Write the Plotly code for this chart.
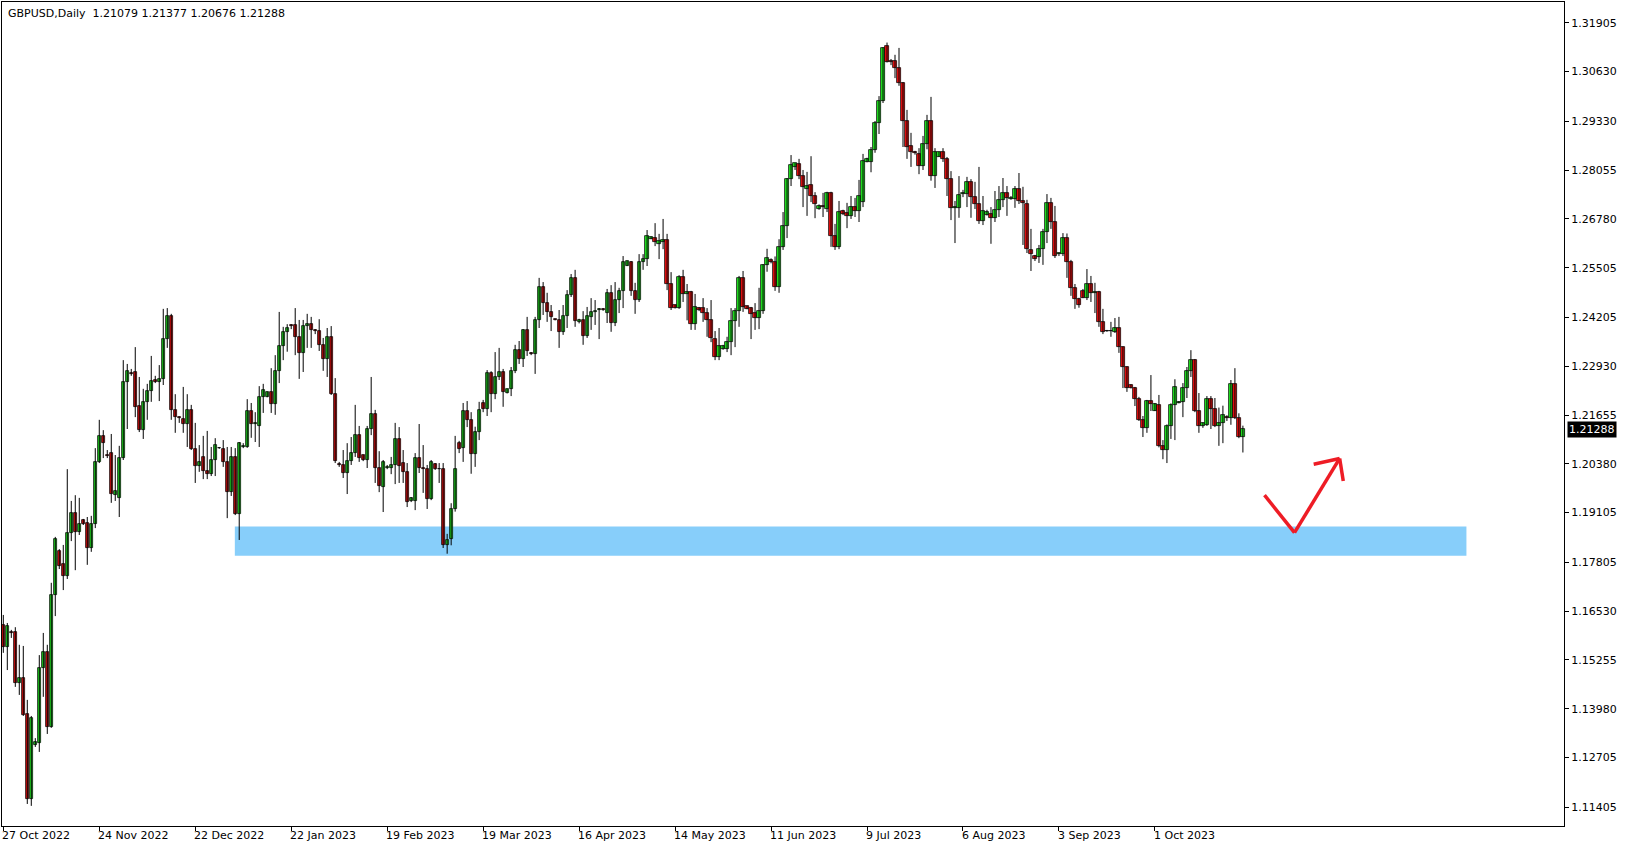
import plotly.graph_objects as go
import pandas as pd

# ---------------- data ----------------
# daily bars incl. Sunday bars (no Saturdays, no 25 Dec / 1 Jan)
all_days = pd.date_range("2022-10-27", "2023-10-26", freq="D")
dates = [d for d in all_days if d.weekday() != 5 and d.strftime("%m-%d") not in ("12-25", "01-01")]

O = [
1.1617,1.1559,1.1598,1.1598,1.1465,1.1478,1.1384,1.1162,1.1303,1.1308,
1.1504,1.1546,1.1350,1.1695,1.1810,1.1776,1.1745,1.1857,1.1910,1.1860,
1.1891,1.1883,1.1818,1.1881,1.2043,1.2111,1.2061,1.2066,1.1957,1.1949,
1.2053,1.2252,1.2275,1.2278,1.2189,1.2126,1.2200,1.2228,1.2257,1.2252,
1.2260,1.2364,1.2424,1.2179,1.2160,1.2155,1.2142,1.2179,1.2077,1.2032,
1.2056,1.2019,1.2011,1.2048,1.2079,1.2077,1.2043,1.1964,1.2056,1.1907,
1.2082,1.2082,1.2176,1.2142,1.2137,1.2213,1.2213,1.2226,1.2194,1.2281,
1.2346,1.2382,1.2401,1.2401,1.2370,1.2328,1.2398,1.2403,1.2388,1.2385,
1.2349,1.2312,1.2370,1.2220,1.2037,1.2035,1.2014,1.2045,1.2066,1.2113,
1.2061,1.2048,1.2129,1.2168,1.2027,1.1977,1.2027,1.2027,1.2035,1.2103,
1.2040,1.2017,1.1941,1.1941,1.2053,1.2027,1.2024,1.1946,1.2037,1.2024,
1.2024,1.1825,1.1842,1.1920,1.2092,1.2079,1.2176,1.2153,1.2063,1.2120,
1.2197,1.2181,1.2275,1.2220,1.2264,1.2278,1.2223,1.2233,1.2280,1.2335,
1.2312,1.2388,1.2328,1.2325,1.2413,1.2500,1.2458,1.2435,1.2416,1.2413,
1.2382,1.2424,1.2479,1.2524,1.2409,1.2414,1.2372,1.2422,1.2435,1.2440,
1.2443,1.2432,1.2484,1.2406,1.2466,1.2490,1.2555,1.2566,1.2490,1.2466,
1.2566,1.2573,1.2626,1.2628,1.2613,1.2618,1.2623,1.2508,1.2453,1.2445,
1.2526,1.2482,1.2487,1.2403,1.2445,1.2445,1.2432,1.2414,1.2364,1.2317,
1.2338,1.2338,1.2356,1.2411,1.2437,1.2524,1.2450,1.2445,1.2432,1.2419,
1.2437,1.2558,1.2570,1.2566,1.2500,1.2605,1.2660,1.2782,1.2814,1.2822,
1.2790,1.2756,1.2767,1.2738,1.2704,1.2712,1.2704,1.2746,1.2634,1.2605,
1.2699,1.2693,1.2686,1.2709,1.2699,1.2722,1.2827,1.2827,1.2858,1.2929,
1.2986,1.3130,1.3091,1.3091,1.3072,1.3033,1.2934,1.2869,1.2853,1.2848,
1.2816,1.2875,1.2935,1.2791,1.2840,1.2853,1.2835,1.2782,1.2707,1.2707,
1.2743,1.2743,1.2775,1.2735,1.2717,1.2673,1.2688,1.2691,1.2680,1.2701,
1.2728,1.2746,1.2730,1.2730,1.2756,1.2725,1.2717,1.2597,1.2581,1.2578,
1.2599,1.2644,1.2720,1.2670,1.2586,1.2586,1.2628,1.2565,1.2497,1.2469,
1.2490,1.2472,1.2508,1.2485,1.2487,1.2409,1.2386,1.2385,1.2383,1.2393,
1.2343,1.2291,1.2244,1.2236,1.2207,1.2153,1.2132,1.2202,1.2176,1.2192,
1.2085,1.2074,1.2137,1.2192,1.2197,1.2199,1.2236,1.2281,1.2309,1.2176,
1.2137,1.2140,1.2207,1.2181,1.2137,1.2145,1.2160,1.2157,1.2247,1.2157,
1.21079]

H = [
1.1643,1.1622,1.1604,1.1611,1.1565,1.1562,1.1421,1.1379,1.1321,1.1538,
1.1596,1.1565,1.1727,1.1847,1.1815,1.1826,1.2024,1.1941,1.1956,1.1949,
1.1894,1.1899,1.1902,1.2079,1.2153,1.2126,1.2074,1.2116,1.2061,1.2085,
1.2309,1.2299,1.2286,1.2343,1.2265,1.2234,1.2247,1.2320,1.2268,1.2296,
1.2443,1.2445,1.2430,1.2220,1.2162,1.2239,1.2220,1.2192,1.2145,1.2087,
1.2111,1.2124,1.2082,1.2105,1.2082,1.2100,1.2082,1.2082,1.2079,1.2095,
1.2092,1.2207,1.2197,1.2173,1.2241,1.2247,1.2227,1.2288,1.2322,1.2435,
1.2396,1.2403,1.2403,1.2445,1.2414,1.2414,1.2430,1.2422,1.2390,1.2416,
1.2367,1.2393,1.2398,1.2262,1.2043,1.2074,1.2092,1.2108,1.2192,1.2137,
1.2062,1.2137,1.2265,1.2179,1.2071,1.2048,1.2035,1.2056,1.2145,1.2134,
1.2074,1.2040,1.1951,1.2066,1.2142,1.2087,1.2035,1.2048,1.2040,1.2040,
1.2040,1.1855,1.1935,1.2111,1.2098,1.2197,1.2202,1.2173,1.2135,1.2200,
1.2205,1.2283,1.2280,1.2330,1.2341,1.2286,1.2234,1.2291,1.2349,1.2359,
1.2390,1.2422,1.2330,1.2422,1.2524,1.2513,1.2485,1.2453,1.2417,1.2440,
1.2453,1.2492,1.2534,1.2545,1.2417,1.2437,1.2448,1.2471,1.2466,1.2445,
1.2445,1.2495,1.2505,1.2513,1.2498,1.2581,1.2569,1.2568,1.2511,1.2586,
1.2586,1.2649,1.2632,1.2667,1.2639,1.2678,1.2639,1.2539,1.2454,1.2531,
1.2545,1.2508,1.2490,1.2482,1.2448,1.2471,1.2445,1.2466,1.2385,1.2393,
1.2349,1.2370,1.2445,1.2445,1.2529,1.2542,1.2451,1.2448,1.2458,1.2498,
1.2560,1.2600,1.2575,1.2580,1.2625,1.2696,1.2785,1.2845,1.2824,1.2835,
1.2806,1.2801,1.2842,1.2748,1.2716,1.2746,1.2749,1.2749,1.2665,1.2725,
1.2702,1.2720,1.2738,1.2733,1.2780,1.2848,1.2838,1.2866,1.2934,1.2999,
1.3127,1.3139,1.3096,1.3107,1.3125,1.3036,1.2963,1.2903,1.2856,1.2863,
1.2895,1.2950,1.2997,1.2863,1.2854,1.2863,1.2840,1.2803,1.2725,1.2790,
1.2754,1.2788,1.2782,1.2775,1.2814,1.2738,1.2702,1.2709,1.2751,1.2764,
1.2785,1.2764,1.2738,1.2764,1.2798,1.2762,1.2728,1.2652,1.2584,1.2610,
1.2652,1.2743,1.2733,1.2712,1.2590,1.2641,1.2640,1.2571,1.2508,1.2472,
1.2495,1.2547,1.2529,1.2511,1.2490,1.2443,1.2388,1.2409,1.2419,1.2422,
1.2345,1.2293,1.2246,1.2239,1.2213,1.2163,1.2205,1.2270,1.2197,1.2218,
1.2100,1.2141,1.2196,1.2259,1.2202,1.2249,1.2291,1.2335,1.2312,1.2223,
1.2146,1.2215,1.2215,1.2210,1.2185,1.2190,1.2165,1.2257,1.2288,1.2170,
1.21377]

L = [
1.1544,1.1499,1.1583,1.1455,1.1434,1.1379,1.1149,1.1144,1.1298,1.1285,
1.1429,1.1332,1.1348,1.1640,1.1763,1.1708,1.1737,1.1836,1.1760,1.1852,
1.1878,1.1774,1.1808,1.1870,1.2040,1.2053,1.2053,1.1936,1.1941,1.1899,
1.2048,1.2129,1.2268,1.2160,1.2121,1.2103,1.2153,1.2200,1.2249,1.2202,
1.2244,1.2341,1.2153,1.2119,1.2145,1.2119,1.2082,1.2074,1.1988,1.2017,
1.1998,1.1998,1.2006,1.2006,1.2077,1.2030,1.1896,1.1954,1.1904,1.1839,
1.2079,1.2080,1.2106,1.2095,1.2082,1.2171,1.2212,1.2171,1.2166,1.2249,
1.2309,1.2331,1.2390,1.2322,1.2260,1.2278,1.2341,1.2341,1.2377,1.2333,
1.2281,1.2265,1.2218,1.2040,1.2030,1.2001,1.1959,1.2035,1.2056,1.2043,
1.2045,1.2027,1.2113,1.1988,1.1964,1.1912,1.2024,1.2011,1.1985,1.1988,
1.1988,1.1925,1.1938,1.1917,1.2014,1.1962,1.1920,1.1943,1.2022,1.1988,
1.1818,1.1803,1.1825,1.1913,1.2066,1.2043,1.2134,1.2012,1.2030,1.2100,
1.2173,1.2163,1.2173,1.2207,1.2257,1.2187,1.2222,1.2215,1.2275,1.2299,
1.2291,1.2320,1.2322,1.2273,1.2393,1.2427,1.2409,1.2385,1.2413,1.2341,
1.2375,1.2393,1.2474,1.2396,1.2405,1.2349,1.2367,1.2388,1.2401,1.2364,
1.2438,1.2406,1.2383,1.2398,1.2432,1.2445,1.2555,1.2477,1.2430,1.2461,
1.2545,1.2555,1.2625,1.2607,1.2573,1.2599,1.2492,1.2440,1.2444,1.2443,
1.2461,1.2413,1.2388,1.2388,1.2437,1.2409,1.2370,1.2356,1.2309,1.2309,
1.2336,1.2330,1.2322,1.2343,1.2396,1.2435,1.2442,1.2364,1.2388,1.2390,
1.2430,1.2540,1.2562,1.2490,1.2485,1.2597,1.2628,1.2764,1.2806,1.2782,
1.2709,1.2686,1.2722,1.2680,1.2702,1.2683,1.2696,1.2605,1.2597,1.2599,
1.2688,1.2654,1.2678,1.2683,1.2670,1.2709,1.2826,1.2800,1.2851,1.2900,
1.2981,1.3087,1.3080,1.3046,1.3026,1.2866,1.2835,1.2814,1.2846,1.2795,
1.2806,1.2860,1.2778,1.2759,1.2840,1.2827,1.2738,1.2675,1.2615,1.2681,
1.2735,1.2709,1.2681,1.2704,1.2665,1.2662,1.2687,1.2613,1.2670,1.2683,
1.2709,1.2686,1.2728,1.2707,1.2717,1.2610,1.2589,1.2542,1.2568,1.2563,
1.2558,1.2615,1.2652,1.2576,1.2581,1.2581,1.2524,1.2477,1.2443,1.2446,
1.2471,1.2466,1.2461,1.2432,1.2396,1.2377,1.2383,1.2370,1.2380,1.2328,
1.2236,1.2226,1.2235,1.2189,1.2150,1.2108,1.2119,1.2176,1.2176,1.2081,
1.2050,1.2040,1.2103,1.2100,1.2196,1.2160,1.2210,1.2265,1.2173,1.2119,
1.2132,1.2137,1.2129,1.2134,1.2085,1.2092,1.2150,1.2140,1.2155,1.2105,
1.20676]

C = [
1.1559,1.1614,1.1596,1.1465,1.1478,1.1382,1.1162,1.1374,1.1311,1.1504,
1.1546,1.1350,1.1695,1.1841,1.1771,1.1745,1.1857,1.1910,1.1860,1.1881,
1.1881,1.1818,1.1881,1.2043,1.2111,1.2092,1.2058,1.1959,1.1966,1.2053,
1.2252,1.2281,1.2273,1.2186,1.2126,1.2200,1.2228,1.2254,1.2252,1.2260,
1.2364,1.2424,1.2179,1.2160,1.2158,1.2142,1.2179,1.2077,1.2032,1.2043,
1.2019,1.2011,1.2048,1.2087,1.2080,1.2043,1.1964,1.2056,1.1907,1.2092,
1.2085,1.2176,1.2142,1.2145,1.2213,1.2231,1.2226,1.2194,1.2281,1.2346,
1.2382,1.2393,1.2398,1.2370,1.2328,1.2398,1.2403,1.2388,1.2385,1.2349,
1.2312,1.2370,1.2220,1.2045,1.2034,1.2014,1.2045,1.2066,1.2113,1.2053,
1.2048,1.2129,1.2168,1.2027,1.1980,1.2043,1.2030,1.2035,1.2103,1.2032,
1.2017,1.1938,1.1949,1.2053,1.2027,1.2024,1.1946,1.2043,1.2024,1.2025,
1.1825,1.1840,1.1920,1.2025,1.2077,1.2176,1.2153,1.2063,1.2120,1.2178,
1.2181,1.2275,1.2220,1.2264,1.2278,1.2226,1.2233,1.2280,1.2335,1.2312,
1.2388,1.2333,1.2325,1.2413,1.2500,1.2458,1.2435,1.2422,1.2414,1.2382,
1.2424,1.2479,1.2524,1.2411,1.2414,1.2372,1.2424,1.2435,1.2437,1.2443,
1.2441,1.2484,1.2406,1.2466,1.2490,1.2566,1.2568,1.2490,1.2466,1.2566,
1.2573,1.2633,1.2631,1.2618,1.2620,1.2623,1.2508,1.2445,1.2445,1.2526,
1.2482,1.2487,1.2403,1.2448,1.2440,1.2432,1.2414,1.2367,1.2317,1.2346,
1.2346,1.2356,1.2411,1.2437,1.2524,1.2448,1.2443,1.2430,1.2419,1.2437,
1.2558,1.2575,1.2566,1.2500,1.2605,1.2660,1.2782,1.2819,1.2824,1.2790,
1.2762,1.2764,1.2738,1.2717,1.2712,1.2709,1.2746,1.2634,1.2605,1.2696,
1.2691,1.2686,1.2709,1.2699,1.2738,1.2829,1.2835,1.2858,1.2929,1.2986,
1.3125,1.3088,1.3088,1.3072,1.3033,1.2934,1.2866,1.2853,1.2850,1.2816,
1.2875,1.2935,1.2791,1.2853,1.2853,1.2835,1.2782,1.2707,1.2709,1.2740,
1.2746,1.2775,1.2735,1.2717,1.2673,1.2699,1.2696,1.2680,1.2701,1.2728,
1.2746,1.2733,1.2733,1.2756,1.2725,1.2720,1.2599,1.2586,1.2573,1.2599,
1.2644,1.2720,1.2670,1.2581,1.2589,1.2628,1.2565,1.2497,1.2469,1.2452,
1.2472,1.2508,1.2485,1.2487,1.2409,1.2382,1.2384,1.2386,1.2393,1.2343,
1.2291,1.2236,1.2236,1.2207,1.2153,1.2132,1.2202,1.2194,1.2194,1.2085,
1.2074,1.2137,1.2192,1.2240,1.2199,1.2236,1.2281,1.2309,1.2176,1.2137,
1.2145,1.2207,1.2181,1.2137,1.2145,1.2165,1.2157,1.2247,1.2157,1.2108,
1.21288]

assert len(O) == len(H) == len(L) == len(C) == len(dates), (len(O), len(H), len(L), len(C), len(dates))

date_labels = ["27 Oct 2022", "24 Nov 2022", "22 Dec 2022", "22 Jan 2023", "19 Feb 2023",
               "19 Mar 2023", "16 Apr 2023", "14 May 2023", "11 Jun 2023", "9 Jul 2023",
               "6 Aug 2023", "3 Sep 2023", "1 Oct 2023"]
date_label_bars = [0, 24, 48, 72, 96, 120, 144, 168, 192, 216, 240, 264, 288]

price_ticks = [1.31905, 1.30630, 1.29330, 1.28055, 1.26780, 1.25505, 1.24205, 1.22930,
               1.21655, 1.20380, 1.19105, 1.17805, 1.16530, 1.15255, 1.13980, 1.12705, 1.11405]

symbol = "GBPUSD"
timeframe = "Daily"
last_price = 1.21288

# support zone (bar index range, price range) and hand-drawn arrow
zone_bars = [57.9, 365.9]
zone_prices = [1.1798, 1.1874]
arrow_bars = [315.4, 322.9, 334.2]
arrow_prices = [1.1956, 1.1858, 1.2052]
head_bars = [327.7, 335.1]
head_prices = [1.2037, 1.1993]

BULL = "#22EE22"
BEAR = "#F01010"
FONT = "DejaVu Sans"

# ---------------- figure ----------------
n = len(O)
idx = list(range(n))

wx, wy = [], []
for i in idx:
    wx += [i, i, None]
    wy += [L[i], H[i], None]

body_base = [min(O[i], C[i]) for i in idx]
body_h = [max(abs(C[i] - O[i]), 0.00004) for i in idx]
body_col = [BULL if C[i] >= O[i] else BEAR for i in idx]
hover = [f"{dates[i]:%d %b %Y}<br>O {O[i]}<br>H {H[i]}<br>L {L[i]}<br>C {C[i]}" for i in idx]

fig = go.Figure()
fig.add_trace(go.Scatter(x=wx, y=wy, mode="lines", line=dict(color="black", width=1),
                         hoverinfo="skip", showlegend=False))
fig.add_trace(go.Bar(x=idx, y=body_h, base=body_base, width=0.8,
                     marker=dict(color=body_col, line=dict(color="black", width=0.75)),
                     hovertext=hover, hoverinfo="text", showlegend=False))

fig.add_shape(type="rect", xref="x", yref="y", x0=zone_bars[0], x1=zone_bars[1],
              y0=zone_prices[0], y1=zone_prices[1], fillcolor="#87CEFA",
              line=dict(width=0), layer="below")
for k in range(len(arrow_bars) - 1):
    fig.add_shape(type="line", xref="x", yref="y", x0=arrow_bars[k], y0=arrow_prices[k],
                  x1=arrow_bars[k + 1], y1=arrow_prices[k + 1],
                  line=dict(color="#EE1C25", width=3.5))
for hb, hp in zip(head_bars, head_prices):
    fig.add_shape(type="line", xref="x", yref="y", x0=arrow_bars[-1], y0=arrow_prices[-1],
                  x1=hb, y1=hp, line=dict(color="#EE1C25", width=3.5))

annotations = []
for b, t in zip(date_label_bars, date_labels):
    annotations.append(dict(x=b, y=0, xref="x", yref="paper", text=t, showarrow=False,
                            xanchor="left", yanchor="top", xshift=-3, yshift=-1,
                            font=dict(family=FONT, size=11, color="black")))
annotations.append(dict(x=0, y=1, xref="paper", yref="paper",
                        text=f"{symbol},{timeframe}&nbsp; {O[-1]:.5f} {H[-1]:.5f} {L[-1]:.5f} {C[-1]:.5f}",
                        showarrow=False, xanchor="left", yanchor="top", xshift=4, yshift=-3,
                        font=dict(family=FONT, size=11, color="black")))
annotations.append(dict(x=1, y=last_price, xref="paper", yref="y", text=f"{last_price:.5f}",
                        showarrow=False, xanchor="left", yanchor="middle", xshift=3,
                        bgcolor="black", borderpad=1,
                        font=dict(family=FONT, size=11, color="white")))

fig.update_layout(
    width=1629, height=850,
    margin=dict(l=2, r=65, t=2, b=24),
    paper_bgcolor="white", plot_bgcolor="white",
    showlegend=False, bargap=0,
    annotations=annotations,
    xaxis=dict(range=[-0.325, 390.3], showgrid=False, zeroline=False,
               showline=True, mirror=True, linecolor="black", linewidth=1,
               tickvals=date_label_bars, showticklabels=False,
               ticks="outside", ticklen=4, tickcolor="black", fixedrange=True),
    yaxis=dict(range=[1.10914, 1.32450], side="right", showgrid=False, zeroline=False,
               showline=True, mirror=True, linecolor="black", linewidth=1,
               tickvals=price_ticks, ticktext=[f"{v:.5f}" for v in price_ticks],
               ticks="outside", ticklen=4, tickcolor="black",
               tickfont=dict(family=FONT, size=11, color="black"), fixedrange=True),
    hovermode="closest",
)

fig.write_html("out.html", config={"displayModeBar": False},
               post_script="document.body.style.margin='0';document.body.style.overflow='hidden';")
